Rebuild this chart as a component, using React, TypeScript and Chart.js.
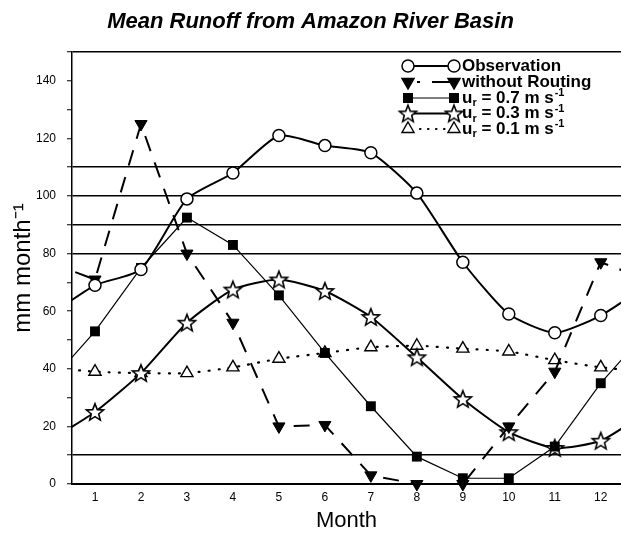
import React, { useEffect, useRef } from 'react';
import { Chart, registerables } from 'chart.js';

Chart.register(...registerables);

const TITLE = 'Mean Runoff from Amazon River Basin';
const X_TITLE = 'Month';
const Y_TITLE = 'mm month\u207B\u00B9';

const months = [1, 2, 3, 4, 5, 6, 7, 8, 9, 10, 11, 12];
const observation = [69, 74.5, 99, 108, 121, 117.5, 115, 101, 77, 59, 52.5, 58.5];
const withoutRouting = [71, 125, 80, 56, 20, 20.5, 3, 0, 0, 20, 39, 77];
const ur07 = [53, 75, 92.5, 83, 65.5, 45.5, 27, 9.5, 2, 2, 13, 35];
const ur03 = [25, 38.5, 56, 67.5, 71, 67, 58, 44, 29.5, 18, 12.5, 15];
const ur01 = [39, 38.5, 38.5, 40.5, 43.5, 45.5, 47.5, 48, 47, 46, 43, 40.5];

const yTicks = [0, 10, 20, 30, 40, 50, 60, 70, 80, 90, 100, 110, 120, 130, 140, 150];
const yLabelled = [0, 20, 40, 60, 80, 100, 120, 140];
const yRuled = [10, 80, 90, 100, 110, 150];

const FONT = "'Liberation Sans', Arial, Helvetica, sans-serif";

// cyclic year: December precedes January, January follows December
const cyclic = (v: number[]) => [
  { x: months[0] - 1, y: v[v.length - 1] },
  ...v.map((y, i) => ({ x: months[i], y })),
  { x: months[months.length - 1] + 1, y: v[0] },
];

function makeStar(): HTMLCanvasElement {
  const c = document.createElement('canvas');
  c.width = 22;
  c.height = 22;
  const g = c.getContext('2d')!;
  g.beginPath();
  for (let i = 0; i < 10; i++) {
    const r = i % 2 === 0 ? 9 : 3.9;
    const a = -Math.PI / 2 + (i * Math.PI) / 5;
    const px = 11 + r * Math.cos(a);
    const py = 11.8 + r * Math.sin(a);
    if (i === 0) g.moveTo(px, py);
    else g.lineTo(px, py);
  }
  g.closePath();
  g.fillStyle = '#fff';
  g.fill();
  g.lineWidth = 1.6;
  g.strokeStyle = '#000';
  g.stroke();
  return c;
}

export default function App() {
  const ref = useRef<HTMLCanvasElement | null>(null);

  useEffect(() => {
    const canvas = ref.current;
    if (!canvas) return;
    const star = makeStar();
    const last = months.length + 1;
    const r = (R: number) => (c: any) => (c.dataIndex === 0 || c.dataIndex === last ? 0 : R);

    const legendPlugin = {
      id: 'customLegend',
      afterDraw(chart: any) {
        const ctx: CanvasRenderingContext2D = chart.ctx;
        const x1 = 408;
        const x2 = 454;
        const tx = 462;
        const rows = [66, 82, 98, 113.5, 129];
        ctx.save();
        ctx.strokeStyle = '#000';
        ctx.fillStyle = '#000';
        const line = (y: number, w: number, dash: number[]) => {
          ctx.beginPath();
          ctx.setLineDash(dash);
          ctx.lineWidth = w;
          ctx.moveTo(x1, y);
          ctx.lineTo(x2, y);
          ctx.stroke();
          ctx.setLineDash([]);
        };
        const circle = (x: number, y: number) => {
          ctx.beginPath();
          ctx.arc(x, y, 6, 0, Math.PI * 2);
          ctx.fillStyle = '#fff';
          ctx.fill();
          ctx.lineWidth = 1.5;
          ctx.stroke();
        };
        const tri = (x: number, y: number, down: boolean, filled: boolean) => {
          const R = 7;
          ctx.beginPath();
          for (let i = 0; i < 3; i++) {
            const a = (down ? Math.PI : 0) + (i * 2 * Math.PI) / 3;
            const px = x + Math.sin(a) * R;
            const py = y - Math.cos(a) * R;
            if (i === 0) ctx.moveTo(px, py);
            else ctx.lineTo(px, py);
          }
          ctx.closePath();
          ctx.fillStyle = filled ? '#000' : '#fff';
          ctx.fill();
          ctx.lineWidth = 1.4;
          ctx.stroke();
        };
        const square = (x: number, y: number) => {
          ctx.fillStyle = '#000';
          ctx.fillRect(x - 5, y - 5, 10, 10);
        };
        // Observation
        line(rows[0], 2, []);
        circle(x1, rows[0]);
        circle(x2, rows[0]);
        // without routing
        ctx.beginPath();
        ctx.lineWidth = 2;
        ctx.moveTo(417, rows[1]);
        ctx.lineTo(420, rows[1]);
        ctx.moveTo(432, rows[1]);
        ctx.lineTo(450, rows[1]);
        ctx.stroke();
        tri(x1, rows[1], true, true);
        tri(x2, rows[1], true, true);
        // 0.7
        line(rows[2], 1.2, []);
        square(x1, rows[2]);
        square(x2, rows[2]);
        // 0.3
        line(rows[3], 2, []);
        ctx.drawImage(star, x1 - 11, rows[3] - 11);
        ctx.drawImage(star, x2 - 11, rows[3] - 11);
        // 0.1
        ctx.beginPath();
        ctx.lineWidth = 2.2;
        ctx.lineCap = 'round';
        [420, 428, 436, 444].forEach((x) => {
          ctx.moveTo(x, rows[4]);
          ctx.lineTo(x + 0.5, rows[4]);
        });
        ctx.stroke();
        ctx.lineCap = 'butt';
        tri(x1, rows[4], false, false);
        tri(x2, rows[4], false, false);

        // texts
        ctx.fillStyle = '#000';
        ctx.textBaseline = 'middle';
        ctx.textAlign = 'left';
        const big = `bold 17px ${FONT}`;
        const small = `bold 11px ${FONT}`;
        ctx.font = big;
        ctx.fillText('Observation', tx, rows[0]);
        ctx.fillText('without Routing', tx, rows[1]);
        const speed = (y: number, val: string) => {
          let x = tx;
          ctx.font = big;
          ctx.fillText('u', x, y);
          x += ctx.measureText('u').width;
          ctx.font = small;
          ctx.fillText('r', x, y + 5);
          x += ctx.measureText('r').width;
          ctx.font = big;
          const s = ` = ${val} m s`;
          ctx.fillText(s, x, y);
          x += ctx.measureText(s).width;
          ctx.font = small;
          ctx.fillText('-1', x + 1, y - 5);
        };
        speed(rows[2], '0.7');
        speed(rows[3], '0.3');
        speed(rows[4], '0.1');
        ctx.restore();
      },
    };

    const clip = { left: 0, top: 4, right: 0, bottom: 8 };

    const chart = new Chart(canvas, {
      type: 'line',
      data: {
        datasets: [
          {
            label: 'Observation',
            data: cyclic(observation),
            borderColor: '#000',
            borderWidth: 2,
            tension: 0.2,
            pointStyle: 'circle',
            pointRadius: r(6),
            pointBackgroundColor: '#fff',
            pointBorderColor: '#000',
            pointBorderWidth: 1.5,
            clip,
          },
          {
            label: 'without Routing',
            data: cyclic(withoutRouting),
            borderColor: '#000',
            borderWidth: 2,
            borderDash: [16, 12],
            tension: 0,
            pointStyle: 'triangle',
            rotation: 180,
            pointRadius: r(7),
            pointBackgroundColor: '#000',
            pointBorderColor: '#000',
            pointBorderWidth: 1,
            clip,
          },
          {
            label: 'u_r = 0.7 m s-1',
            data: cyclic(ur07),
            borderColor: '#000',
            borderWidth: 1.2,
            tension: 0,
            pointStyle: 'rect',
            pointRadius: r(7),
            pointBackgroundColor: '#000',
            pointBorderColor: '#000',
            pointBorderWidth: 0,
            clip,
          },
          {
            label: 'u_r = 0.3 m s-1',
            data: cyclic(ur03),
            borderColor: '#000',
            borderWidth: 2,
            tension: 0.2,
            pointStyle: star,
            pointRadius: r(8),
            clip,
          },
          {
            label: 'u_r = 0.1 m s-1',
            data: cyclic(ur01),
            borderColor: '#000',
            borderWidth: 2.2,
            borderDash: [1, 9],
            borderCapStyle: 'round',
            tension: 0.2,
            pointStyle: 'triangle',
            pointRadius: r(7),
            pointBackgroundColor: '#fff',
            pointBorderColor: '#000',
            pointBorderWidth: 1.4,
            clip,
          },
        ],
      },
      options: {
        responsive: false,
        animation: false,
        devicePixelRatio: 1,
        layout: { padding: 0 },
        plugins: {
          legend: { display: false },
          tooltip: { enabled: false },
          title: {
            display: true,
            text: TITLE,
            color: '#000',
            font: { family: FONT, size: 22, style: 'italic', weight: 'bold' },
            padding: { top: 8.5, bottom: 17.1 },
          },
        },
        scales: {
          x: {
            type: 'linear',
            min: 0.5,
            max: 12.44,
            afterBuildTicks: (scale: any) => {
              scale.ticks = months.map((v) => ({ value: v }));
            },
            afterFit: (scale: any) => {
              scale.height = 49;
            },
            ticks: {
              color: '#000',
              font: { family: FONT, size: 12 },
              padding: 6,
              maxRotation: 0,
              autoSkip: false,
              callback: (v: any) => String(v),
            },
            grid: { display: true, drawOnChartArea: false, drawTicks: false },
            border: { display: true, color: '#000', width: 2 },
            title: {
              display: true,
              text: X_TITLE,
              color: '#000',
              font: { family: FONT, size: 22 },
              padding: { top: 0, bottom: -1 },
            },
          },
          y: {
            type: 'linear',
            min: 0,
            max: 150,
            afterBuildTicks: (scale: any) => {
              scale.ticks = yTicks.map((v) => ({ value: v }));
            },
            afterFit: (scale: any) => {
              scale.width = 72;
            },
            ticks: {
              color: '#000',
              font: { family: FONT, size: 12 },
              padding: 11,
              autoSkip: false,
              callback: (v: any) => (yLabelled.includes(Number(v)) ? String(v) : ''),
            },
            grid: {
              color: (c: any) => (c.tick && yRuled.includes(c.tick.value) ? '#000' : 'rgba(0,0,0,0)'),
              lineWidth: 1.5,
              tickColor: '#000',
              tickLength: 5,
              tickWidth: 1,
            },
            border: { display: true, color: '#000', width: 1.5 },
            title: {
              display: true,
              text: Y_TITLE,
              color: '#000',
              font: { family: FONT, size: 24 },
              padding: { top: 9, bottom: 0 },
            },
          },
        },
      },
      plugins: [legendPlugin],
    } as any);

    return () => chart.destroy();
  }, []);

  return (
    <div style={{ position: 'fixed', left: 0, top: 0, width: 621, height: 533, background: '#fff' }}>
      <canvas ref={ref} width={621} height={533} style={{ display: 'block' }} />
    </div>
  );
}
